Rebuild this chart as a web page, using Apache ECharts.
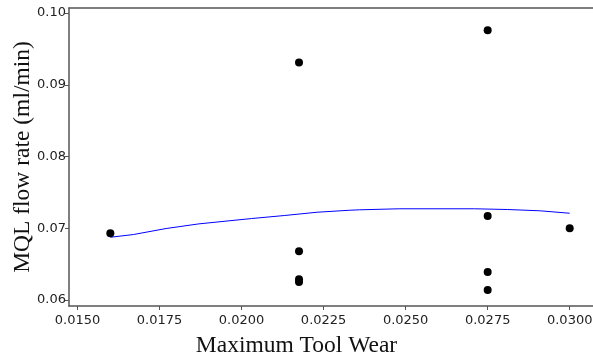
<!DOCTYPE html>
<html>
<head>
<meta charset="utf-8">
<script src="https://cdn.jsdelivr.net/npm/echarts@6/dist/echarts.min.js"></script>
<style>
  html, body { margin: 0; padding: 0; background: #fff; }
  #chart { width: 593px; height: 360px; }
</style>
</head>
<body>
<div id="chart"></div>
<script>
// observed points (tool wear, flow rate)
const wearX = [0.0160, 0.02175, 0.02175, 0.02175, 0.02175, 0.0275, 0.0275, 0.0275, 0.0275, 0.0300]
const flowY = [0.0693, 0.0931, 0.0668, 0.0629, 0.0625, 0.0976, 0.0717, 0.0639, 0.0614, 0.0700]

// fitted curve
const fitX = [0.0160, 0.0167, 0.0177, 0.0187, 0.0203, 0.0213, 0.0223, 0.0233, 0.0236, 0.0248, 0.0271, 0.0281, 0.0291, 0.0300]
const fitY = [0.06874, 0.06912, 0.06996, 0.07061, 0.07135, 0.07177, 0.07223, 0.07251, 0.07257, 0.07271, 0.07271, 0.07261, 0.07243, 0.07209]

const xTicks = [0.0150, 0.0175, 0.0200, 0.0225, 0.0250, 0.0275, 0.0300]
const yTicks = [0.06, 0.07, 0.08, 0.09, 0.10]

const axisColor = '#555'
const labelColor = '#222'
const xMin = 0.01474, xMax = 0.03071
const yMin = 0.05916, yMax = 0.1007

const chart = echarts.init(document.getElementById('chart'))

chart.setOption({
  animation: false,
  title: {
    text: 'Maximum Tool Wear',
    left: 'center',
    top: 329,
    textStyle: { fontFamily: 'Liberation Serif', fontSize: 23.5, fontWeight: 'normal', color: '#111' }
  },
  grid: { left: 69, right: 0, top: 8, bottom: 54, outerBoundsMode: 'none', containLabel: false },
  xAxis: [
    {
      type: 'value',
      min: xMin,
      max: xMax,
      splitLine: { show: false },
      axisLine: { lineStyle: { color: axisColor, width: 1.5 } },
      axisTick: { length: 4, lineStyle: { color: axisColor }, customValues: xTicks },
      axisLabel: {
        customValues: xTicks,
        margin: 8,
        color: labelColor,
        fontFamily: 'DejaVu Sans',
        fontSize: 13,
        formatter: (v) => v.toFixed(4)
      }
    },
    {
      type: 'value',
      position: 'top',
      min: xMin,
      max: xMax,
      splitLine: { show: false },
      axisLine: { show: true, lineStyle: { color: axisColor, width: 1.5 } },
      axisTick: { show: false },
      axisLabel: { show: false }
    }
  ],
  yAxis: {
    type: 'value',
    min: yMin,
    max: yMax,
    name: 'MQL flow rate (ml/min)',
    nameLocation: 'middle',
    nameGap: 34,
    nameMoveOverlap: false,
    nameTextStyle: { fontFamily: 'Liberation Serif', fontSize: 23.5, color: '#111' },
    splitLine: { show: false },
    axisLine: { show: true, lineStyle: { color: axisColor, width: 1.5 } },
    axisTick: { show: true, length: 4, lineStyle: { color: axisColor }, customValues: yTicks },
    axisLabel: {
      customValues: yTicks,
      margin: 3,
      color: labelColor,
      fontFamily: 'DejaVu Sans',
      fontSize: 13,
      formatter: (v) => v.toFixed(2)
    }
  },
  series: [
    {
      type: 'line',
      data: fitX.map((x, i) => [x, fitY[i]]),
      showSymbol: false,
      symbol: 'none',
      lineStyle: { color: '#0000ff', width: 1 },
      z: 2
    },
    {
      type: 'scatter',
      data: wearX.map((x, i) => [x, flowY[i]]),
      symbolSize: 8,
      itemStyle: { color: '#000', opacity: 1 },
      z: 3
    }
  ]
})
</script>
</body>
</html>
